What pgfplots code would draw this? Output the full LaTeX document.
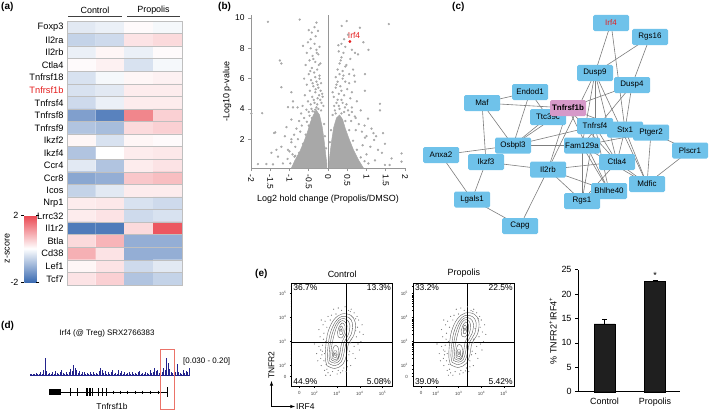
\documentclass[border=0pt]{standalone}
\usepackage{fontspec}
\setmainfont{Liberation Sans}
\usepackage{pgfplots}
\usepackage{pgfplotstable}
\pgfplotsset{compat=1.18}
\definecolor{netblue}{RGB}{111,194,234}
\definecolor{netpink}{RGB}{214,153,201}
\definecolor{volgray}{RGB}{168,168,168}
\definecolor{axgray}{RGB}{150,150,150}
\definecolor{trackblue}{RGB}{35,35,140}
\definecolor{boxred}{RGB}{235,115,105}
\definecolor{labred}{RGB}{228,30,30}
\definecolor{edgegray}{RGB}{125,125,125}
\definecolor{contgray}{RGB}{95,95,95}
\definecolor{flowdot}{RGB}{120,120,120}
\pgfplotsset{/pgf/number format/assume math mode=true}

\pgfplotstableread{
x y z
0 0 -0.3
1 0 -0.2
2 0 0.05
3 0 -0.1
0 1 -0.6
1 1 -0.5
2 1 0.3
3 1 0.4
0 2 -0.2
1 2 0.1
2 2 -0.2
3 2 0.05
0 3 0.05
1 3 0.15
2 3 -0.4
3 3 -0.1
0 4 -0.4
1 4 -0.1
2 4 0.1
3 4 0.15
0 5 -0.4
1 5 -0.3
2 5 0.2
3 5 0.2
0 6 -0.5
1 6 -0.2
2 6 0.2
3 6 0.2
0 7 -1.3
1 7 -1.7
2 7 1.3
3 7 0.5
0 8 -0.8
1 8 -0.9
2 8 0.4
3 8 0.5
0 9 0.1
1 9 -0.4
2 9 0.1
3 9 0.05
0 10 -0.8
1 10 0.0
2 10 0.2
3 10 0.25
0 11 -0.3
1 11 -0.8
2 11 0.2
3 11 0.3
0 12 -1.2
1 12 -1.1
2 12 0.6
3 12 0.7
0 13 -0.6
1 13 -0.3
2 13 0.2
3 13 0.2
0 14 0.2
1 14 0.25
2 14 -0.4
3 14 -0.5
0 15 0.2
1 15 0.3
2 15 -0.5
3 15 -0.4
0 16 -1.8
1 16 -1.8
2 16 0.4
3 16 1.8
0 17 0.4
1 17 0.8
2 17 -1.1
3 17 -1.1
0 18 0.85
1 18 0.3
2 18 -1.1
3 18 -1.1
0 19 0.1
1 19 0.3
2 19 -0.5
3 19 -0.3
0 20 0.3
1 20 0.5
2 20 -0.8
3 20 -0.6
}\heat

\pgfplotstableread{
u v
2.55 2.0
2.9 1.88
3.25 2.05
3.4 2.4
3.5 2.9
3.75 3.3
3.8 3.8
3.6 4.1
3.2 4.15
2.85 3.9
2.6 3.4
2.5 2.8
2.48 2.3
2.55 2.0
nan nan
2.62 2.1
2.9 2.0
3.18 2.15
3.3 2.5
3.4 2.95
3.62 3.3
3.68 3.75
3.52 4.0
3.2 4.05
2.92 3.82
2.7 3.35
2.6 2.8
2.57 2.35
2.62 2.1
nan nan
2.68 2.18
2.9 2.1
3.12 2.22
3.22 2.55
3.3 2.95
3.5 3.3
3.56 3.7
3.42 3.92
3.18 3.95
2.97 3.75
2.78 3.3
2.68 2.8
2.65 2.4
2.68 2.18
nan nan
2.74 2.25
2.9 2.18
3.06 2.28
3.14 2.6
3.2 2.95
3.38 3.3
3.44 3.65
3.32 3.85
3.15 3.85
3.0 3.65
2.86 3.25
2.76 2.8
2.72 2.45
2.74 2.25
nan nan
2.8 2.3
2.93 2.25
3.05 2.35
3.08 2.6
3.02 2.8
2.88 2.82
2.8 2.6
2.8 2.3
nan nan
3.05 3.2
3.2 3.15
3.32 3.35
3.35 3.65
3.22 3.78
3.08 3.6
3.02 3.4
3.05 3.2
nan nan
2.85 2.36
2.95 2.33
3.0 2.45
2.97 2.62
2.87 2.62
2.83 2.5
2.85 2.36
nan nan
3.12 3.3
3.22 3.3
3.27 3.5
3.2 3.65
3.12 3.55
3.12 3.3
nan nan
2.9 2.42
2.96 2.44
2.94 2.53
2.88 2.52
2.9 2.42
nan nan
3.17 3.42
3.21 3.44
3.2 3.53
3.15 3.5
3.17 3.42
}\contours

\pgfplotstableread{
u v
2.3 2.0
2.35 2.6
2.4 3.1
2.28 2.3
2.45 1.8
2.6 1.7
2.8 1.75
3.05 1.8
3.3 1.9
3.45 2.2
3.55 2.6
3.6 2.95
3.85 3.2
3.9 3.6
3.95 3.9
3.75 4.2
3.5 4.3
3.2 4.3
2.95 4.15
2.7 3.9
2.55 3.6
2.42 3.35
2.2 2.8
2.15 2.2
2.5 1.6
3.0 1.65
3.6 2.0
3.7 2.5
4.0 3.4
3.88 4.05
2.6 4.05
2.38 3.7
2.25 3.2
2.1 2.5
3.4 1.75
3.75 2.8
4.05 3.0
4.1 3.7
3.35 4.45
2.85 4.35
2.52 2.05
2.45 2.5
3.62 3.1
3.98 2.65
2.0 2.9
2.3 3.9
3.15 1.7
2.7 1.6
3.8 2.3
4.15 3.3
2.33 2.45
2.5 3.0
3.68 3.55
3.58 4.25
2.62 2.95
3.45 1.95
2.2 3.5
3.92 2.9
2.42 2.2
2.36 2.85
2.55 1.85
3.25 1.78
3.52 2.45
3.82 3.45
3.82 3.95
3.62 4.35
3.05 4.4
2.75 4.1
2.47 3.85
2.28 2.65
}\flowdots

\pgfplotsset{flowax/.style={
 anchor=south west, scale only axis, width=101bp, height=102.7bp,
 xmin=1.0, xmax=5.45, ymin=1.15, ymax=5.43,
 xtick={1.34,2,3,4,5}, xticklabels={0,10\textsuperscript{2},10\textsuperscript{3},10\textsuperscript{4},10\textsuperscript{5}},
 ytick={1.54,2,3,4,5}, yticklabels={0,10\textsuperscript{2},10\textsuperscript{3},10\textsuperscript{4},10\textsuperscript{5}},
 minor xtick={1.6,1.8,2.3,2.48,2.6,2.7,2.78,2.85,2.9,2.95,3.3,3.48,3.6,3.7,3.78,3.85,3.9,3.95,4.3,4.48,4.6,4.7,4.78,4.85,4.9,4.95,5.3},
 minor ytick={1.7,1.85,2.3,2.48,2.6,2.7,2.78,2.85,2.9,2.95,3.3,3.48,3.6,3.7,3.78,3.85,3.9,3.95,4.3,4.48,4.6,4.7,4.78,4.85,4.9,4.95,5.3},
 tick align=outside, major tick length=1.8bp, minor tick length=1bp,
 tick style={line width=0.4bp, black},
 tick label style={font=\fontsize{4.5}{5}\selectfont, text=black!75},
 xtick pos=bottom, ytick pos=left,
 axis line style={line width=0.6bp},
 title style={font=\fontsize{9}{10}\selectfont, yshift=-4bp},
 clip=false}}

\begin{document}
\begin{tikzpicture}[font=\fontsize{9}{10.5}\selectfont]
\path[use as bounding box] (0,0) rectangle (709bp,-413bp);

% ---------------- (a) heatmap
\begin{axis}[at={(67bp,-21bp)}, anchor=north west, scale only axis,
 width=115bp, height=264bp,
 xmin=-0.5, xmax=3.5, ymin=-0.5, ymax=20.5, y dir=reverse,
 xtick=\empty, ytick={0,...,20},
 yticklabels={Foxp3,Il2ra,Il2rb,Ctla4,Tnfrsf18,\textcolor{labred}{Tnfrsf1b},Tnfrsf4,Tnfrsf8,Tnfrsf9,Ikzf2,Ikzf4,Ccr4,Ccr8,Icos,Nrp1,Lrrc32,Il1r2,Btla,Cd38,Lef1,Tcf7},
 yticklabel style={font=\fontsize{9.3}{10}\selectfont},
 major tick length=0, minor tick length=0,
 minor xtick={0.5,1.5,2.5}, minor ytick={0.5,1.5,...,19.5},
 grid=minor, minor grid style={black!25, line width=0.6bp},
 axis line style={black!25, line width=0.8bp}, axis on top,
 colormap={hm}{rgb255=(60,108,178) rgb255=(255,255,255) rgb255=(234,68,78)},
 point meta min=-2, point meta max=2,
 colorbar left,
 colorbar style={at={(parent axis.south west)}, anchor=south east, xshift=-22bp, yshift=3bp,
   width=12bp, height=67bp, ytick={-2,2}, ylabel={z-score},
   ylabel style={font=\fontsize{9}{10}\selectfont, yshift=-6bp},
   yticklabel style={font=\fontsize{9}{10}\selectfont, xshift=0.5bp},
   axis line style={draw=none}, tick align=outside, major tick length=3bp,
   tick style={black, line width=0.5bp}, grid=none}]
\addplot[matrix plot*, mesh/cols=4, point meta=explicit] table[x=x, y=y, meta=z] {\heat};
\end{axis}

% ---------------- (b) volcano
\begin{axis}[at={(251bp,-168bp)}, anchor=south west, scale only axis,
 width=154bp, height=153bp,
 xmin=-2, xmax=2, ymin=0.1, ymax=10.2,
 axis x line=bottom, axis y line=left,
 axis line style={axgray, line width=1bp, -},
 xtick={-2,-1.5,-1,-0.5,0,0.5,1,1.5,2},
 xticklabels={-2,-1.5,-1,-0.5,0,0.5,1,1.5,2},
 xticklabel style={rotate=-90, anchor=west, font=\fontsize{8.5}{9}\selectfont},
 ytick={2,4,6,8,10}, yticklabel style={font=\fontsize{8.5}{9}\selectfont},
 tick align=outside, major tick length=3bp, tick style={axgray, line width=0.8bp},
 xlabel={Log2 hold change (Propolis/DMSO)}, ylabel={-Log10 p-value},
 xlabel style={yshift=1bp}, ylabel style={yshift=-3bp}, clip=false]
\addplot[axgray, line width=1bp] coordinates {(0,0.1) (0,10.2)};
\addplot[fill=volgray, draw=volgray, line width=0.5bp] coordinates {
(-0.03,0.1) (-0.95,0.1) (-0.86,0.6) (-0.73,1.2) (-0.63,1.8) (-0.53,2.5) (-0.46,3.1) (-0.38,3.6) (-0.30,3.9) (-0.22,3.6) (-0.15,2.8) (-0.10,1.9) (-0.06,1.0) (-0.03,0.4) (-0.03,0.1)};
\addplot[fill=volgray, draw=volgray, line width=0.5bp] coordinates {
(0.03,0.1) (0.03,0.5) (0.06,1.2) (0.10,2.0) (0.15,2.8) (0.22,3.4) (0.30,3.6) (0.38,3.3) (0.45,2.7) (0.55,2.0) (0.66,1.3) (0.80,0.6) (0.92,0.1) (0.03,0.1)};
\addplot[color=volgray, only marks, mark=*, mark size=0.95bp] coordinates {
(-0.30,9.7)(-0.35,9.4)(-0.42,9.04)(-0.26,9.15)(-0.735,9.9)(-0.65,8.16)(-0.52,8.4)(-0.35,8.3)(-0.45,8.0)(-0.30,7.9)(-0.55,7.7)(-0.40,7.5)(-0.25,7.6)(-0.48,7.2)(-0.33,7.1)(-0.20,7.0)(-0.58,6.9)(-0.42,6.7)(-0.28,6.6)(-0.36,6.4)(-0.50,6.3)(-0.22,6.2)(-0.62,6.0)(-0.44,5.9)(-0.30,5.8)(-0.18,5.7)(-0.55,5.6)(-0.38,5.5)(-0.25,5.4)(-0.47,5.2)(-0.33,5.1)(-0.15,5.0)(-0.60,4.9)(-0.41,4.8)(-0.27,4.7)(-0.20,4.6)(-0.52,4.5)(-0.35,4.4)(-0.45,4.3)(-0.12,4.2)(-0.66,4.2)(-0.30,4.1)(-0.56,3.95)(-0.40,3.85)(-0.70,3.7)(-0.48,3.55)(-0.62,3.4)(-0.75,3.2)(-0.55,3.15)(-0.68,2.9)(-0.82,2.7)(-0.72,2.5)(-0.88,2.3)(-0.78,2.0)(-0.95,1.8)(-0.85,1.5)(-1.0,1.2)(-0.92,1.0)(-1.05,0.7)(-0.98,0.4)
(-1.56,9.75)(-1.25,7.2)(-1.21,7.0)(-1.21,5.43)(-0.95,5.1)(-0.91,4.5)(-1.04,4.12)(-0.91,4.1)(-0.79,4.1)(-1.71,3.72)(-1.99,3.7)(-0.95,3.3)(-1.08,2.8)(-1.40,2.41)(-1.37,2.45)(-1.12,2.2)(-0.95,2.0)(-1.21,1.5)(-1.34,1.3)(-1.04,1.3)(-1.47,1.1)(-1.30,0.85)(-1.82,0.36)(-1.60,0.36)(-1.43,0.34)(-1.17,0.4)(-0.87,0.85)
(-0.25,4.0)(-0.18,3.9)(-0.35,3.8)(-0.42,3.4)(-0.50,2.9)(-0.58,2.3)(-0.65,1.7)(-0.75,1.1)(-0.85,0.9)(-0.10,3.0)(-0.08,2.2)(-0.05,1.4)
(-0.17,4.4)(-0.23,4.9)(-0.32,5.3)(-0.19,5.2)(-0.27,5.6)(-0.40,5.7)(-0.22,6.0)(-0.33,6.1)(-0.46,6.5)(-0.24,6.9)(-0.38,7.3)(-0.29,7.7)(-0.45,8.6)(-0.32,8.8)(-0.5,9.2)(-0.22,8.1)(-0.14,4.8)(-0.37,4.6)(-0.28,4.3)(-0.43,4.0)(-0.5,3.8)(-0.33,3.95)
(0.485,9.8)(0.83,9.36)(1.58,9.6)(0.355,9.48)(0.35,8.3)(0.45,8.1)(0.62,7.9)(0.40,7.7)(0.35,7.4)(0.92,8.4)(1.05,7.9)(0.70,7.7)(0.78,7.6)(0.30,7.0)(0.45,6.8)(0.25,6.6)(0.38,6.5)(0.55,6.3)(0.40,6.2)(0.68,6.2)(0.96,6.3)(0.25,5.8)(0.45,5.8)(0.55,5.7)(0.70,5.8)(0.32,5.5)(0.20,5.4)(0.50,5.3)(0.62,5.1)(0.96,5.2)(0.28,5.0)(0.42,4.9)(0.15,4.8)(0.58,4.7)(0.35,4.6)(0.75,4.5)(0.22,4.4)(0.48,4.3)(1.35,4.34)(0.62,4.1)(0.30,4.0)(0.18,3.9)(0.85,3.9)(1.35,3.9)(0.42,3.8)(0.55,3.6)(0.70,3.5)(1.04,3.36)(0.60,3.2)(0.80,3.0)(0.95,2.9)(0.72,2.6)(1.13,2.7)(0.88,2.5)(1.18,2.4)(1.43,2.4)(1.00,2.2)(1.25,2.2)(0.96,2.1)(1.20,1.95)(1.48,1.7)(0.90,1.6)(1.10,1.5)(1.3,1.3)(1.4,1.1)(1.0,1.0)(1.65,0.73)(1.91,1.06)(1.91,0.52)(1.48,0.3)(1.05,0.4)(1.22,0.6)(0.95,0.55)(1.6,0.3)
(0.12,3.6)(0.2,3.7)(0.35,3.7)(0.45,3.2)(0.55,2.6)(0.65,1.9)(0.75,1.3)(0.85,0.8)(0.08,2.6)(0.05,1.8)
(0.16,4.2)(0.25,4.6)(0.12,5.1)(0.35,5.2)(0.22,5.6)(0.38,6.0)(0.30,6.3)(0.20,6.1)(0.48,6.9)(0.33,7.2)(0.58,7.3)(0.28,7.8)(0.42,8.6)(0.52,8.9)(0.27,8.2)(0.65,6.6)(0.44,4.1)(0.52,3.9)(0.28,4.2)(0.38,4.4)(0.62,3.8)(0.72,3.4)};
\addplot[color=labred, only marks, mark=*, mark size=1.2bp] coordinates {(0.57,8.45)};
\node[labred, anchor=south west, inner sep=0.5bp, font=\fontsize{8.5}{9}\selectfont] at (axis cs:0.5,8.6) {Irf4};
\end{axis}

% ---------------- (d) genome track
\begin{axis}[at={(30bp,-376bp)}, anchor=south west, scale only axis,
 width=160bp, height=20bp, xmin=30, xmax=190, ymin=0.03, ymax=0.20, hide axis, clip=true]
\addplot[ycomb, trackblue, line width=0.9bp] coordinates {
(30,0.047)(31.5,0.043)(33,0.051)(34.5,0.043)(36,0.056)(37.5,0.047)(39,0.051)(40.5,0.060)(42,0.047)(43.5,0.081)(45,0.186)(46.5,0.073)(48,0.051)(49.5,0.056)(51,0.047)(52.5,0.060)(54,0.047)(55.5,0.073)(57,0.056)(58.5,0.051)(60,0.068)(61.5,0.081)(63,0.056)(64.5,0.047)(66,0.060)(67.5,0.051)(69,0.064)(70.5,0.090)(72,0.073)(73.5,0.124)(75,0.098)(76.5,0.081)(78,0.056)(79.5,0.073)(81,0.051)(82.5,0.060)(84,0.064)(85.5,0.047)(87,0.056)(88.5,0.051)(90,0.060)(91.5,0.047)(93,0.068)(94.5,0.047)(96,0.056)(97.5,0.051)(99,0.073)(100.5,0.096)(102,0.081)(103.5,0.056)(105,0.073)(106.5,0.051)(108,0.060)(109.5,0.047)(111,0.064)(112.5,0.081)(114,0.051)(115.5,0.056)(117,0.047)(118.5,0.077)(120,0.056)(121.5,0.073)(123,0.051)(124.5,0.060)(126,0.047)(127.5,0.056)(129,0.064)(130.5,0.051)(132,0.068)(133.5,0.047)(135,0.056)(136.5,0.051)(138,0.060)(139.5,0.073)(141,0.047)(142.5,0.056)(144,0.051)(145.5,0.064)(147,0.056)(148.5,0.047)(150,0.081)(151.5,0.056)(153,0.064)(154.5,0.101)(156,0.073)(157.5,0.081)(159,0.056)(160.5,0.115)(162,0.064)(163.5,0.098)(165,0.081)(166.5,0.181)(168,0.141)(169.5,0.087)(171,0.064)(172.5,0.056)(174,0.051)(175.5,0.064)(177,0.130)(178.5,0.064)(180,0.056)(181.5,0.051)(183,0.081)(184.5,0.056)(186,0.073)(187.5,0.064)(189,0.098)};
\addplot[trackblue, line width=1.2bp] coordinates {(30,0.034) (190,0.034)};
\end{axis}

% ---------------- (e) flow cytometry
\begin{axis}[flowax, at={(291.7bp,-386bp)}, title={Control}]
\addplot[color=flowdot, only marks, mark=*, mark size=0.3bp] table {\flowdots};
\addplot[contgray, line width=0.4bp, smooth, tension=0.6, unbounded coords=jump] table {\contours};
\addplot[black, line width=0.6bp] coordinates {(3.4,1.15) (3.4,5.43)};
\addplot[black, line width=0.6bp] coordinates {(1.0,2.96) (5.45,2.96)};
\node[anchor=north west, inner sep=1.5bp, font=\fontsize{8.5}{9}\selectfont] at (rel axis cs:0,1) {36.7\%};
\node[anchor=north east, inner sep=1.5bp, font=\fontsize{8.5}{9}\selectfont] at (rel axis cs:1,1) {13.3\%};
\node[anchor=south west, inner sep=1.5bp, font=\fontsize{8.5}{9}\selectfont] at (rel axis cs:0,0) {44.9\%};
\node[anchor=south east, inner sep=1.5bp, font=\fontsize{8.5}{9}\selectfont] at (rel axis cs:1,0) {5.08\%};
\end{axis}

\begin{axis}[flowax, at={(413.3bp,-386bp)}, title={Propolis}]
\addplot[color=flowdot, only marks, mark=*, mark size=0.3bp, xshift=1bp] table {\flowdots};
\addplot[contgray, line width=0.4bp, smooth, tension=0.6, unbounded coords=jump, xshift=2bp, yshift=1bp] table {\contours};
\addplot[black, line width=0.6bp] coordinates {(3.4,1.15) (3.4,5.43)};
\addplot[black, line width=0.6bp] coordinates {(1.0,2.96) (5.45,2.96)};
\node[anchor=north west, inner sep=1.5bp, font=\fontsize{8.5}{9}\selectfont] at (rel axis cs:0,1) {33.2\%};
\node[anchor=north east, inner sep=1.5bp, font=\fontsize{8.5}{9}\selectfont] at (rel axis cs:1,1) {22.5\%};
\node[anchor=south west, inner sep=1.5bp, font=\fontsize{8.5}{9}\selectfont] at (rel axis cs:0,0) {39.0\%};
\node[anchor=south east, inner sep=1.5bp, font=\fontsize{8.5}{9}\selectfont] at (rel axis cs:1,0) {5.42\%};
\end{axis}

% ---------------- (e) bar chart
\begin{axis}[at={(578bp,-391.7bp)}, anchor=south west, scale only axis,
 width=102bp, height=122bp, xmin=-0.525, xmax=1.495, ymin=0, ymax=25,
 axis x line=bottom, axis y line=left, axis line style={-, line width=0.6bp},
 ytick={0,5,10,15,20,25}, xtick={0,1}, xticklabels={Control,Propolis},
 xtick style={draw=none}, ytick style={line width=0.5bp, black},
 tick align=outside, major tick length=3bp,
 tick label style={font=\fontsize{9}{10}\selectfont},
 ylabel={\% TNFR2\textsuperscript{+}IRF4\textsuperscript{+}},
 ylabel style={font=\fontsize{9}{10}\selectfont, yshift=-2bp}, clip=false]
\addplot[ybar, bar width=21bp, fill=black!88, draw=black,
 error bars/.cd, y dir=plus, y explicit,
 error bar style={line width=0.6bp, black},
 error mark options={rotate=90, mark size=2.5bp, line width=0.6bp}]
 coordinates {(0,13.9) +- (0,1.0) (1,22.6) +- (0,0.2)};
\node[font=\fontsize{9}{10}\selectfont] at (axis cs:1,23.9) {*};
\end{axis}

% ---------------- annotations in pixel units
\begin{scope}[x=1bp, y=-1bp]
\node[anchor=north west, inner sep=0, font=\fontsize{10}{11}\selectfont\bfseries] at (1,2) {(a)};
\node[anchor=north west, inner sep=0, font=\fontsize{10}{11}\selectfont\bfseries] at (218,2) {(b)};
\node[anchor=north west, inner sep=0, font=\fontsize{10}{11}\selectfont\bfseries] at (452,2) {(c)};
\node[anchor=north west, inner sep=0, font=\fontsize{10}{11}\selectfont\bfseries] at (1,321) {(d)};
\node[anchor=north west, inner sep=0, font=\fontsize{10}{11}\selectfont\bfseries] at (255,269) {(e)};
\draw[black!75, line width=0.7bp] (68,16.5) -- (122,16.5);
\draw[black!75, line width=0.7bp] (127,16.5) -- (180,16.5);
\node[font=\fontsize{9}{10}\selectfont] at (95,10.5) {Control};
\node[font=\fontsize{9}{10}\selectfont] at (153.5,10.5) {Propolis};
\node[font=\fontsize{8}{9}\selectfont] at (107,333) {Irf4 (@ Treg) SRX2766383};
\node[anchor=west, inner sep=0, font=\fontsize{8}{9}\selectfont] at (183,361) {[0.030 - 0.20]};
\fill[black] (49,389) rectangle (61,395);
\draw[black, line width=0.6bp] (61,392) -- (167,392);
\foreach \x in {70,77,86,87.6,89.2,90.8,92.4,98,102,106} \draw[black, line width=0.9bp] (\x,388) -- (\x,396);
\foreach \x in {113,120,127,135,142,150,158} \draw[black, line width=0.5bp] (\x,390.5) -- (\x,393.5);
\draw[black, line width=1bp] (167,387) -- (167,397);
\node[font=\fontsize{8.5}{9}\selectfont] at (112,406.5) {Tnfrsf1b};
\draw[boxred, line width=0.7bp] (160,349) rectangle (174.7,409);
\draw[black, line width=0.6bp, -latex] (271.5,406.5) -- (271.5,381);
\draw[black, line width=0.6bp, -latex] (271.5,406.5) -- (295,406.5);
\node[rotate=90, font=\fontsize{8.5}{9}\selectfont] at (271.5,365) {TNFR2};
\node[anchor=west, inner sep=1bp, font=\fontsize{8.5}{9}\selectfont] at (295,406.5) {IRF4};
\coordinate (Irf4) at (611,23);
\coordinate (Rgs16) at (650,37);
\coordinate (Dusp9) at (595,73);
\coordinate (Dusp4) at (632,85);
\coordinate (Endod1) at (530,92);
\coordinate (Maf) at (482,103);
\coordinate (Ttc39c) at (548,117);
\coordinate (Tnfrsf1b) at (568,108);
\coordinate (Tnfrsf4) at (595,126);
\coordinate (Stx1) at (625,129.5);
\coordinate (Ptger2) at (651,132.5);
\coordinate (Plscr1) at (690,150.5);
\coordinate (Osbpl3) at (513,145.5);
\coordinate (Fam129a) at (582,145.5);
\coordinate (Anxa2) at (441,155);
\coordinate (Ikzf3) at (486,162);
\coordinate (Il2rb) at (548,169.5);
\coordinate (Ctla4) at (617,162);
\coordinate (Mdfic) at (647,184);
\coordinate (Bhlhe40) at (609,191);
\coordinate (Rgs1) at (582,201);
\coordinate (Lgals1) at (472,199.5);
\coordinate (Capg) at (520,226);
\foreach \a/\b in {Irf4/Dusp9, Irf4/Stx1, Rgs16/Dusp9, Rgs16/Dusp4, Dusp9/Tnfrsf4, Dusp9/Fam129a, Dusp9/Ctla4, Dusp9/Mdfic, Dusp9/Il2rb, Dusp4/Tnfrsf1b, Dusp4/Stx1, Dusp4/Fam129a, Maf/Endod1, Maf/Tnfrsf1b, Maf/Osbpl3, Maf/Ikzf3, Endod1/Osbpl3, Endod1/Ttc39c, Tnfrsf1b/Osbpl3, Tnfrsf1b/Ctla4, Tnfrsf1b/Bhlhe40, Tnfrsf1b/Stx1, Osbpl3/Anxa2, Osbpl3/Fam129a, Osbpl3/Tnfrsf4, Osbpl3/Ttc39c, Ikzf3/Il2rb, Ikzf3/Lgals1, Anxa2/Lgals1, Lgals1/Capg, Capg/Il2rb, Il2rb/Rgs1, Il2rb/Ctla4, Il2rb/Bhlhe40, Il2rb/Tnfrsf1b, Ctla4/Mdfic, Ctla4/Tnfrsf4, Ctla4/Rgs1, Stx1/Mdfic, Ptger2/Mdfic, Plscr1/Mdfic, Fam129a/Ptger2, Fam129a/Rgs1, Fam129a/Bhlhe40, Tnfrsf4/Bhlhe40, Tnfrsf4/Rgs1, Stx1/Ctla4, Ptger2/Plscr1, Fam129a/Mdfic}
  \draw[edgegray, line width=0.6bp] (\a) -- (\b);
\tikzset{nd/.style={fill=netblue, rounded corners=1.5bp, minimum width=36bp, minimum height=16bp, inner sep=0pt, font=\fontsize{8}{9}\selectfont}}
\node[nd] at (Irf4) {\textcolor{labred}{Irf4}};
\node[nd] at (Rgs16) {Rgs16};
\node[nd] at (Dusp9) {Dusp9};
\node[nd] at (Dusp4) {Dusp4};
\node[nd] at (Endod1) {Endod1};
\node[nd] at (Maf) {Maf};
\node[nd] at (Ttc39c) {Ttc39c};
\node[nd, fill=netpink] at (Tnfrsf1b) {\textbf{Tnfrsf1b}};
\node[nd] at (Tnfrsf4) {Tnfrsf4};
\node[nd] at (Stx1) {Stx1};
\node[nd] at (Ptger2) {Ptger2};
\node[nd] at (Plscr1) {Plscr1};
\node[nd] at (Osbpl3) {Osbpl3};
\node[nd] at (Fam129a) {Fam129a};
\node[nd] at (Anxa2) {Anxa2};
\node[nd] at (Ikzf3) {Ikzf3};
\node[nd] at (Il2rb) {Il2rb};
\node[nd] at (Ctla4) {Ctla4};
\node[nd] at (Mdfic) {Mdfic};
\node[nd] at (Bhlhe40) {Bhlhe40};
\node[nd] at (Rgs1) {Rgs1};
\node[nd] at (Lgals1) {Lgals1};
\node[nd] at (Capg) {Capg};
\end{scope}
\end{tikzpicture}
\end{document}
